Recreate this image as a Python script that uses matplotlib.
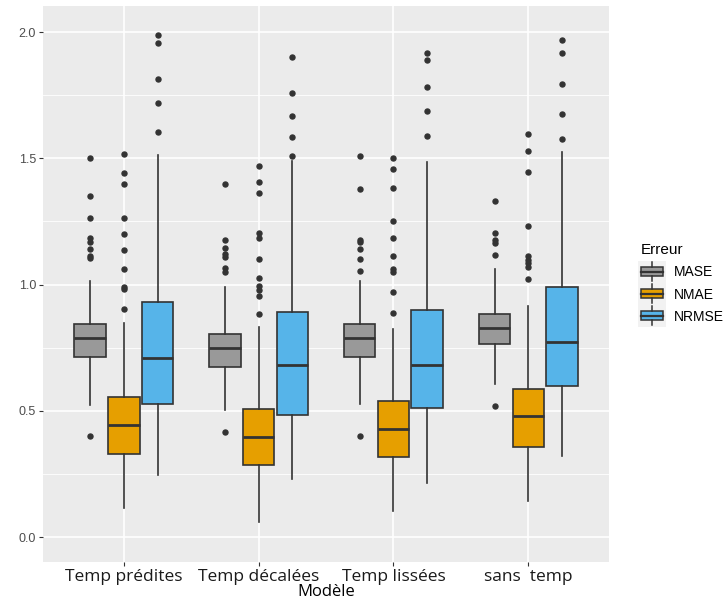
import matplotlib
matplotlib.use("Agg")
import matplotlib.pyplot as plt
from matplotlib.legend_handler import HandlerBase
from matplotlib.patches import Rectangle
from matplotlib.lines import Line2D
from matplotlib.ticker import MultipleLocator

modeles = ["Temp prédites", "Temp décalées", "Temp lissées", "sans  temp"]
erreurs = ["MASE", "NMAE", "NRMSE"]
couleurs = ["#999999", "#E69F00", "#56B4E9"]

# box stats: [whislo, q1, med, q3, whishi] per model
mase = [[0.523, 0.714, 0.788, 0.844, 1.014],
        [0.504, 0.675, 0.747, 0.805, 0.989],
        [0.527, 0.714, 0.788, 0.844, 1.014],
        [0.605, 0.766, 0.828, 0.884, 1.060]]
nmae = [[0.114, 0.329, 0.442, 0.554, 0.847],
        [0.059, 0.287, 0.397, 0.506, 0.830],
        [0.104, 0.316, 0.429, 0.540, 0.825],
        [0.143, 0.356, 0.478, 0.585, 0.916]]
nrmse = [[0.244, 0.525, 0.708, 0.929, 1.512],
         [0.228, 0.484, 0.681, 0.890, 1.490],
         [0.215, 0.510, 0.683, 0.899, 1.486],
         [0.320, 0.599, 0.772, 0.991, 1.526]]

# outliers
mase_out = [[0.40, 1.104, 1.113, 1.141, 1.167, 1.183, 1.262, 1.352, 1.502],
            [0.417, 1.048, 1.067, 1.110, 1.122, 1.143, 1.177, 1.398],
            [0.399, 1.053, 1.102, 1.141, 1.170, 1.178, 1.378, 1.508],
            [0.517, 1.117, 1.166, 1.177, 1.203, 1.332]]
nmae_out = [[0.903, 0.982, 0.989, 1.060, 1.138, 1.199, 1.262, 1.398, 1.443, 1.517],
            [0.883, 0.953, 0.977, 0.993, 1.027, 1.102, 1.184, 1.203, 1.362, 1.407, 1.468],
            [0.887, 0.970, 1.048, 1.060, 1.113, 1.183, 1.253, 1.382, 1.457, 1.502],
            [1.022, 1.071, 1.084, 1.097, 1.113, 1.233, 1.447, 1.527, 1.597]]
nrmse_out = [[1.603, 1.717, 1.813, 1.958, 1.988],
             [1.508, 1.583, 1.667, 1.757, 1.902],
             [1.588, 1.687, 1.782, 1.888, 1.918],
             [1.578, 1.675, 1.793, 1.918, 1.968]]

series = [(mase, mase_out), (nmae, nmae_out), (nrmse, nrmse_out)]
offsets = [-0.25, 0.0, 0.25]
edge = "#333333"

fig = plt.figure(figsize=(7.24, 6.03), dpi=100)
ax = fig.add_axes([0.0594, 0.068, 0.782, 0.922])
ax.set_facecolor("#EBEBEB")

for k, (vals, outs) in enumerate(series):
    stats = []
    for i in range(len(modeles)):
        lo, q1, med, q3, hi = vals[i]
        stats.append(dict(whislo=lo, q1=q1, med=med, q3=q3, whishi=hi,
                          fliers=outs[i]))
    pos = [i + 1 + offsets[k] for i in range(len(modeles))]
    ax.bxp(stats, positions=pos, widths=0.233, patch_artist=True,
           showcaps=False, manage_ticks=False,
           boxprops=dict(facecolor=couleurs[k], edgecolor=edge, linewidth=1.2),
           medianprops=dict(color=edge, linewidth=2.0),
           whiskerprops=dict(color=edge, linewidth=1.2),
           flierprops=dict(marker="o", markersize=3.6, markerfacecolor=edge,
                           markeredgecolor=edge))

ax.set_xlim(0.4, 4.6)
ax.set_ylim(-0.099, 2.103)
ax.yaxis.set_major_locator(MultipleLocator(0.5))
ax.yaxis.set_minor_locator(MultipleLocator(0.25))
ax.set_xticks(range(1, len(modeles) + 1))
ax.set_xticklabels(modeles, fontfamily="Open Sans", fontsize=12.5, color="#1a1a1a")
ax.set_yticks([0, 0.5, 1.0, 1.5, 2.0])
ax.set_yticklabels(["0.0", "0.5", "1.0", "1.5", "2.0"],
                   fontfamily="Liberation Sans", fontsize=9, color="#4D4D4D")
ax.grid(True, which="major", color="white", linewidth=1.2)
ax.grid(True, which="minor", axis="y", color="white", linewidth=0.6)
ax.set_axisbelow(True)
ax.tick_params(which="major", length=3, color="#333333", pad=2)
ax.tick_params(axis="x", pad=2)
ax.tick_params(which="minor", length=0)
for s in ax.spines.values():
    s.set_visible(False)
ax.set_xlabel("Modèle", fontfamily="Open Sans", fontsize=12, labelpad=-1)


class BoxHandler(HandlerBase):
    def create_artists(self, legend, orig, xd, yd, w, h, fontsize, trans):
        bg = Rectangle((-xd - 2, -yd - 3), w + 4, h + 6, facecolor="#F2F2F2",
                       edgecolor="none", transform=trans)
        box = Rectangle((-xd, -yd + h * 0.15), w, h * 0.7,
                        facecolor=orig.get_facecolor(), edgecolor=edge,
                        linewidth=1.1, transform=trans)
        med = Line2D([-xd, -xd + w], [-yd + h / 2] * 2, color=edge, lw=1.6,
                     transform=trans)
        wl = Line2D([-xd + w / 2] * 2, [-yd - 2, -yd + h * 0.15], color=edge,
                    lw=1.1, transform=trans)
        wh = Line2D([-xd + w / 2] * 2, [-yd + h * 0.85, -yd + h + 2], color=edge,
                    lw=1.1, transform=trans)
        return [bg, box, med, wl, wh]


handles = [Rectangle((0, 0), 1, 1, facecolor=c) for c in couleurs]
leg = fig.legend(handles, erreurs, title="Erreur", loc="upper left",
                 bbox_to_anchor=(0.868, 0.617), frameon=False,
                 handler_map={Rectangle: BoxHandler()},
                 handlelength=1.6, handleheight=1.1, labelspacing=0.55,
                 prop={"family": "Liberation Sans", "size": 10},
                 title_fontproperties={"family": "Liberation Sans", "size": 11})
leg._legend_box.align = "left"

fig.savefig("out.png", dpi=100)
